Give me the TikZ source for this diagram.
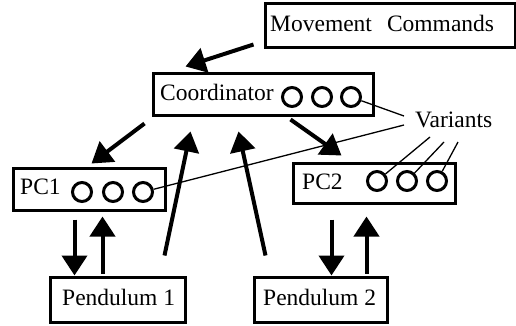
\documentclass[tikz,border=0pt]{standalone}
\usepackage{fontspec}
\setmainfont{Liberation Serif}
\usetikzlibrary{arrows.meta,calc}
\begin{document}
\begin{tikzpicture}[x=1pt,y=-1pt,
  box/.style={draw,line width=3pt,inner sep=0pt},
  lbl/.style={anchor=base west,inner sep=0pt,font=\fontsize{23.5}{27}\selectfont},
  port/.style={draw,circle,line width=3pt,minimum size=19pt,inner sep=0pt},
  arr/.style={line width=4pt,-{Triangle[width=25pt,length=20pt]}},
  thin/.style={line width=1.3pt}]
\useasboundingbox (0,0) rectangle (516,325);
% boxes
\node[box,minimum width=250pt,minimum height=44pt] (mc) at (390,25) {};
\node[box,minimum width=220pt,minimum height=42pt] (coord) at (263,94) {};
\node[box,minimum width=152pt,minimum height=42pt] (pc1) at (89,189) {};
\node[box,minimum width=162pt,minimum height=40pt] (pc2) at (374,183) {};
\node[box,minimum width=135pt,minimum height=45pt] (p1) at (117.5,299.5) {};
\node[box,minimum width=133pt,minimum height=45pt] (p2) at (320.5,299.5) {};
% texts
\node[lbl] (mct) at (270,31) {Movement\hspace{15pt}Commands};
\node[lbl] (coordt) at (160,100) {Coordinator};
\node[lbl] (pc1t) at (20,194) {PC1};
\node[lbl] (pc2t) at (302,189) {PC2};
\node[lbl] (p1t) at (62,305) {Pendulum 1};
\node[lbl] (p2t) at (263,305) {Pendulum 2};
\node[lbl] (var) at (415,127) {Variants};
% ports
\node[port] (cc1) at (292,97) {};
\node[port] (cc2) at (322,97) {};
\node[port] (cc3) at (351,97) {};
\node[port] (ac1) at (82,192) {};
\node[port] (ac2) at (113,192) {};
\node[port] (ac3) at (143,192) {};
\node[port] (bc1) at (377,181) {};
\node[port] (bc2) at (407,181) {};
\node[port] (bc3) at (437,181) {};
% thin lines to variants
\draw[thin] ($(var.base west)+(-11,-11)$) -- (cc3);
\draw[thin] ($(var.base west)+(-11,-2)$) -- (ac3);
\draw[thin] ($(var.base west)+(15,10)$) -- (bc1);
\draw[thin] ($(var.base west)+(29,15)$) -- (bc2);
\draw[thin] ($(var.base west)+(43,15)$) -- (bc3);
% arrows
\draw[arr] ($(mc.south west)+(-10,-4)$) -- ($(coord.north west)+(34,-5)$);
\draw[arr] ($(coord.south west)+(-7,7)$) -- ($(pc1.north west)+(80,-3)$);
\draw[arr] ($(coord.south west)+(139,3)$) -- ($(pc2.north west)+(50,-6)$);
\draw[arr] ($(p1.north west)+(116,-20)$) -- ($(coord.south west)+(39,15)$);
\draw[arr] ($(p2.north west)+(13,-20)$) -- ($(coord.south west)+(87,15)$);
\draw[arr] ($(pc1.south west)+(63,8)$) -- ($(p1.north west)+(26,0)$);
\draw[arr] ($(p1.north west)+(54,-2)$) -- ($(pc1.south west)+(91,5)$);
\draw[arr] ($(pc2.south west)+(40,15)$) -- ($(p2.north west)+(79,0)$);
\draw[arr] ($(p2.north west)+(114,-2)$) -- ($(pc2.south west)+(75,12)$);
\end{tikzpicture}
\end{document}
